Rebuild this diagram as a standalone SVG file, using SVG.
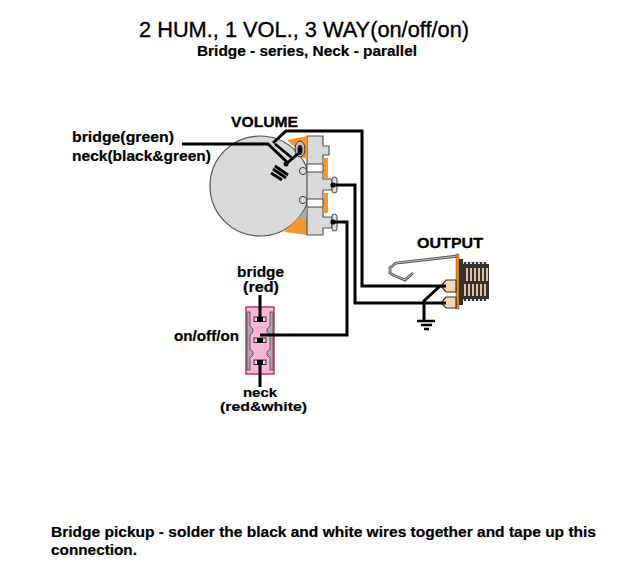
<svg xmlns="http://www.w3.org/2000/svg" width="631" height="579" viewBox="0 0 631 579">
<style>
text{font-family:"Liberation Sans",Arial,sans-serif;fill:#000;font-weight:bold;font-size:14.5px;stroke:#000;stroke-width:.2}
.m{font-size:15px;stroke-width:.3}
.w{fill:none;stroke:#000;stroke-width:3}
.o{fill:#f7962a;stroke:none}
.g{fill:#d9d9d9;stroke:#555;stroke-width:1.2}
.lug{fill:#d9d9d9;stroke:#444;stroke-width:1}
.tab{fill:#f8d7ae;stroke:#333;stroke-width:1.2}
.d{fill:#000}
</style>
<rect width="631" height="579" fill="#fff"/>
<g id="title">
<text x="139" y="37" textLength="330" lengthAdjust="spacingAndGlyphs" style="font-weight:normal;font-size:22px;stroke-width:.35">2 HUM., 1 VOL., 3 WAY(on/off/on)</text>
<text x="197" y="56" textLength="220" lengthAdjust="spacingAndGlyphs">Bridge - series, Neck - parallel</text>
</g>
<g id="pot">
<text x="231" y="127" textLength="67" lengthAdjust="spacingAndGlyphs" class="m">VOLUME</text>
<text x="72" y="142" textLength="102" lengthAdjust="spacingAndGlyphs">bridge(green)</text>
<text x="72" y="161" textLength="139" lengthAdjust="spacingAndGlyphs">neck(black&amp;green)</text>
<circle cx="260" cy="186" r="50" fill="#d9d9d9" stroke="#555" stroke-width="1.2"/>
<path class="o" d="M284 232L300 216L307 222V235Z"/>
<path d="M300 216L306 208L307 223Z" fill="#aaa"/>
<path class="g" d="M307 136H323V146H329V155H323V179H332V190H323V217H332V228H323V235H307Z"/>
<path class="o" d="M287 140L307 136V158H303L296 148Z"/>
<path class="o" d="M323 158H328V178H323ZM323 193H328V213H323Z"/>
<path d="M307 164H323V172H307ZM307 199H323V207H307Z" fill="#fff" stroke="#444"/>
<circle cx="303" cy="171" r="3.6" fill="#d9d9d9" stroke="#444"/>
<circle cx="303" cy="200" r="3.6" fill="#d9d9d9" stroke="#444"/>
<rect x="332" y="177" width="5" height="16" rx="2.5" class="lug"/>
<rect x="332" y="214" width="5" height="17" rx="2.5" class="lug"/>
<ellipse cx="300" cy="149" rx="5" ry="8" fill="#bbb" stroke="#333"/>
<ellipse cx="300" cy="150" rx="2.6" ry="5" fill="#222"/>
</g>
<g id="switch">
<text x="237" y="277" textLength="47" lengthAdjust="spacingAndGlyphs">bridge</text>
<text x="243" y="292" textLength="36" lengthAdjust="spacingAndGlyphs">(red)</text>
<text x="174" y="341" textLength="65" lengthAdjust="spacingAndGlyphs">on/off/on</text>
<text x="243" y="397" textLength="34" lengthAdjust="spacingAndGlyphs" style="font-size:13px">neck</text>
<text x="220" y="411" textLength="87" lengthAdjust="spacingAndGlyphs" style="font-size:12.5px">(red&amp;white)</text>
<rect x="246" y="307" width="28" height="67" fill="#ffb3d9" stroke="#b03060" stroke-width="1.4"/>
<path d="M247 312H250V326L253 329V332L250 335V349L253 352V355L250 358V370H247ZM273 312H270V326L267 329V332L270 335V349L267 352V355L270 358V370H273Z" fill="#aaa" stroke="#444" stroke-width=".8"/>
<rect x="254" y="317" width="12" height="4.5" fill="#ddd" stroke="#333"/>
<rect x="254" y="338" width="12" height="4.5" fill="#ddd" stroke="#333"/>
<rect x="254" y="360" width="12" height="4.5" fill="#ddd" stroke="#333"/>
<rect x="257" y="317" width="6" height="5" class="d"/>
<rect x="257" y="338" width="6" height="5" class="d"/>
<rect x="257" y="360" width="6" height="5" class="d"/>
</g>
<g id="jack">
<text x="417" y="248" textLength="66" lengthAdjust="spacingAndGlyphs" class="m">OUTPUT</text>
<path d="M458 256L396 263L390 268V273L393 275L405 280L413 273" fill="none" stroke="#555" stroke-width="2.8"/>
<path d="M458 256L396 263L390 268V273L393 275L405 280L413 273" fill="none" stroke="#ddd" stroke-width=".8"/>
<rect x="462" y="264" width="27" height="35" fill="#333"/>
<path d="M465 262V301M469 262V301M473 262V301M477 262V301M481 262V301M485 262V301" stroke="#333" stroke-width="2.4"/>
<path d="M467 268V281M471 268V281M475 268V281M479 268V281M483 268V281M487 268V281M465 284V296M469 284V296M473 284V296M477 284V296M481 284V296M485 284V296" stroke="#f4cfa6" stroke-width="1.8"/>
<rect x="459" y="259" width="4" height="46" fill="#333"/>
<rect x="456" y="254" width="3" height="55" fill="#f08a24" stroke="#333" stroke-width=".4"/>
<path class="tab" d="M446 280H456V292H446L441 286Z"/>
<path class="tab" d="M446 297H456V308H446L441 303Z"/>
</g>
<g id="ground">
<path d="M417 321H435M421 325H432M424 329H429" stroke="#000" stroke-width="2.4"/>
</g>
<g id="connectors">
<path class="w" d="M182 144H268L288 163"/>
<path class="w" d="M273 143L286 131H362V286H446"/>
<path class="w" d="M334 185H355V303H446"/>
<path class="w" d="M334 222H347V335H260"/>
<path class="w" d="M424 321V301L440 286"/>
<path class="w" d="M260 295V319M260 362V387"/>
<path d="M275 144L292 158M286 164L300 152V148M275 166L288 175M273 169L286 178M271 173L282 180" fill="none" stroke="#000" stroke-width="2.8"/>
<circle cx="286" cy="164" r="2.5" class="d"/>
<circle cx="333" cy="185" r="2.6" class="d"/>
<circle cx="333" cy="222" r="2.6" class="d"/>
</g>
<g id="note">
<text x="51" y="537" textLength="545" lengthAdjust="spacingAndGlyphs">Bridge pickup - solder the black and white wires together and tape up this</text>
<text x="51" y="555" textLength="86" lengthAdjust="spacingAndGlyphs">connection.</text>
</g>
</svg>
